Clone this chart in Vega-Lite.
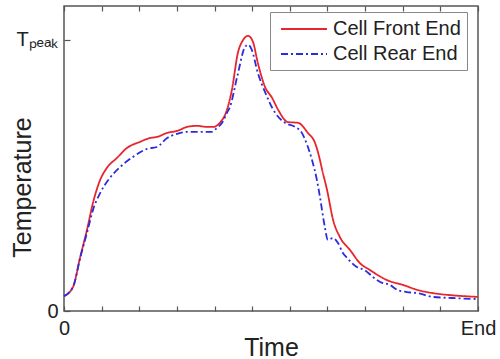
{
  "$schema": "https://vega.github.io/schema/vega-lite/v6.json",
  "width": 414,
  "height": 305,
  "autosize": {"type": "none"},
  "padding": {"left": 64, "top": 6, "right": 22, "bottom": 48},
  "background": "white",
  "config": {
    "font": "Liberation Sans",
    "view": {"stroke": "#555", "strokeWidth": 1.5},
    "axis": {"grid": false, "domain": false, "tickColor": "#555", "tickWidth": 1.2, "labelColor": "#222", "titleColor": "#222", "labelFont": "Liberation Sans", "titleFont": "Liberation Sans", "titleFontWeight": "normal"},
    "legend": {
      "orient": "none", "legendX": 206, "legendY": 6,
      "strokeColor": "#888", "fillColor": "white", "padding": 6,
      "labelFontSize": 20, "labelColor": "#222", "labelFont": "Liberation Sans",
      "symbolType": "M-0.6,0H4.0", "symbolSize": 400, "symbolStrokeWidth": 2,
      "rowPadding": 4, "labelOffset": 35, "title": null
    }
  },
  "data": {"values": [
    {"t": 0, "v": 0.055, "s": "Cell Front End"},
    {"t": 0.24, "v": 0.089, "s": "Cell Front End"},
    {"t": 0.43, "v": 0.199, "s": "Cell Front End"},
    {"t": 0.61, "v": 0.299, "s": "Cell Front End"},
    {"t": 0.77, "v": 0.399, "s": "Cell Front End"},
    {"t": 0.96, "v": 0.483, "s": "Cell Front End"},
    {"t": 1.14, "v": 0.528, "s": "Cell Front End"},
    {"t": 1.41, "v": 0.565, "s": "Cell Front End"},
    {"t": 1.67, "v": 0.601, "s": "Cell Front End"},
    {"t": 2.02, "v": 0.624, "s": "Cell Front End"},
    {"t": 2.28, "v": 0.638, "s": "Cell Front End"},
    {"t": 2.47, "v": 0.642, "s": "Cell Front End"},
    {"t": 2.74, "v": 0.657, "s": "Cell Front End"},
    {"t": 3.0, "v": 0.664, "s": "Cell Front End"},
    {"t": 3.27, "v": 0.679, "s": "Cell Front End"},
    {"t": 3.53, "v": 0.683, "s": "Cell Front End"},
    {"t": 3.8, "v": 0.679, "s": "Cell Front End"},
    {"t": 3.96, "v": 0.679, "s": "Cell Front End"},
    {"t": 4.14, "v": 0.694, "s": "Cell Front End"},
    {"t": 4.33, "v": 0.742, "s": "Cell Front End"},
    {"t": 4.46, "v": 0.815, "s": "Cell Front End"},
    {"t": 4.62, "v": 0.952, "s": "Cell Front End"},
    {"t": 4.76, "v": 1.0, "s": "Cell Front End"},
    {"t": 4.89, "v": 1.015, "s": "Cell Front End"},
    {"t": 5.02, "v": 0.993, "s": "Cell Front End"},
    {"t": 5.15, "v": 0.915, "s": "Cell Front End"},
    {"t": 5.34, "v": 0.827, "s": "Cell Front End"},
    {"t": 5.53, "v": 0.786, "s": "Cell Front End"},
    {"t": 5.69, "v": 0.742, "s": "Cell Front End"},
    {"t": 5.95, "v": 0.697, "s": "Cell Front End"},
    {"t": 6.22, "v": 0.694, "s": "Cell Front End"},
    {"t": 6.48, "v": 0.657, "s": "Cell Front End"},
    {"t": 6.67, "v": 0.62, "s": "Cell Front End"},
    {"t": 6.8, "v": 0.557, "s": "Cell Front End"},
    {"t": 6.86, "v": 0.52, "s": "Cell Front End"},
    {"t": 6.99, "v": 0.446, "s": "Cell Front End"},
    {"t": 7.15, "v": 0.336, "s": "Cell Front End"},
    {"t": 7.33, "v": 0.273, "s": "Cell Front End"},
    {"t": 7.6, "v": 0.225, "s": "Cell Front End"},
    {"t": 7.86, "v": 0.177, "s": "Cell Front End"},
    {"t": 8.13, "v": 0.151, "s": "Cell Front End"},
    {"t": 8.58, "v": 0.114, "s": "Cell Front End"},
    {"t": 9.01, "v": 0.096, "s": "Cell Front End"},
    {"t": 9.41, "v": 0.077, "s": "Cell Front End"},
    {"t": 9.8, "v": 0.066, "s": "Cell Front End"},
    {"t": 10.4, "v": 0.057, "s": "Cell Front End"},
    {"t": 11.0, "v": 0.052, "s": "Cell Front End"},
    {"t": 0, "v": 0.055, "s": "Cell Rear End"},
    {"t": 0.24, "v": 0.089, "s": "Cell Rear End"},
    {"t": 0.43, "v": 0.196, "s": "Cell Rear End"},
    {"t": 0.61, "v": 0.288, "s": "Cell Rear End"},
    {"t": 0.77, "v": 0.373, "s": "Cell Rear End"},
    {"t": 0.96, "v": 0.435, "s": "Cell Rear End"},
    {"t": 1.22, "v": 0.491, "s": "Cell Rear End"},
    {"t": 1.49, "v": 0.531, "s": "Cell Rear End"},
    {"t": 1.83, "v": 0.568, "s": "Cell Rear End"},
    {"t": 2.21, "v": 0.598, "s": "Cell Rear End"},
    {"t": 2.47, "v": 0.605, "s": "Cell Rear End"},
    {"t": 2.74, "v": 0.638, "s": "Cell Rear End"},
    {"t": 3.0, "v": 0.653, "s": "Cell Rear End"},
    {"t": 3.27, "v": 0.661, "s": "Cell Rear End"},
    {"t": 3.69, "v": 0.661, "s": "Cell Rear End"},
    {"t": 3.93, "v": 0.661, "s": "Cell Rear End"},
    {"t": 4.06, "v": 0.675, "s": "Cell Rear End"},
    {"t": 4.2, "v": 0.694, "s": "Cell Rear End"},
    {"t": 4.33, "v": 0.731, "s": "Cell Rear End"},
    {"t": 4.41, "v": 0.753, "s": "Cell Rear End"},
    {"t": 4.6, "v": 0.863, "s": "Cell Rear End"},
    {"t": 4.81, "v": 0.974, "s": "Cell Rear End"},
    {"t": 4.89, "v": 0.982, "s": "Cell Rear End"},
    {"t": 4.99, "v": 0.963, "s": "Cell Rear End"},
    {"t": 5.15, "v": 0.878, "s": "Cell Rear End"},
    {"t": 5.34, "v": 0.808, "s": "Cell Rear End"},
    {"t": 5.61, "v": 0.731, "s": "Cell Rear End"},
    {"t": 5.87, "v": 0.694, "s": "Cell Rear End"},
    {"t": 6.14, "v": 0.679, "s": "Cell Rear End"},
    {"t": 6.32, "v": 0.657, "s": "Cell Rear End"},
    {"t": 6.46, "v": 0.613, "s": "Cell Rear End"},
    {"t": 6.59, "v": 0.557, "s": "Cell Rear End"},
    {"t": 6.72, "v": 0.483, "s": "Cell Rear End"},
    {"t": 6.8, "v": 0.421, "s": "Cell Rear End"},
    {"t": 6.93, "v": 0.31, "s": "Cell Rear End"},
    {"t": 7.01, "v": 0.262, "s": "Cell Rear End"},
    {"t": 7.15, "v": 0.269, "s": "Cell Rear End"},
    {"t": 7.28, "v": 0.251, "s": "Cell Rear End"},
    {"t": 7.41, "v": 0.214, "s": "Cell Rear End"},
    {"t": 7.52, "v": 0.196, "s": "Cell Rear End"},
    {"t": 7.78, "v": 0.162, "s": "Cell Rear End"},
    {"t": 7.99, "v": 0.151, "s": "Cell Rear End"},
    {"t": 8.21, "v": 0.125, "s": "Cell Rear End"},
    {"t": 8.4, "v": 0.107, "s": "Cell Rear End"},
    {"t": 8.66, "v": 0.096, "s": "Cell Rear End"},
    {"t": 8.87, "v": 0.077, "s": "Cell Rear End"},
    {"t": 9.11, "v": 0.07, "s": "Cell Rear End"},
    {"t": 9.38, "v": 0.066, "s": "Cell Rear End"},
    {"t": 9.8, "v": 0.052, "s": "Cell Rear End"},
    {"t": 10.3, "v": 0.048, "s": "Cell Rear End"},
    {"t": 11.0, "v": 0.044, "s": "Cell Rear End"}
  ]},
  "resolve": {"axis": {"x": "independent"}},
  "layer": [
    {
      "mark": {"type": "line", "strokeWidth": 1.8, "interpolate": "monotone"},
      "encoding": {
        "x": {"field": "t", "type": "quantitative", "scale": {"domain": [0, 11], "nice": false, "zero": false},
          "axis": {"orient": "bottom", "values": [0,1,2,3,4,5,6,7,8,9,10,11], "tickSize": -5, "labelFlush": false, "labelFontSize": 20, "labelPadding": 12,
            "labelExpr": "datum.value == 0 ? '0' : (datum.value == 11 ? 'End' : '')",
            "title": "Time", "titleFontSize": 25, "titleY": 44, "titleBaseline": "alphabetic"}},
        "y": {"field": "v", "type": "quantitative", "scale": {"domain": [0, 1.125], "nice": false, "zero": false},
          "axis": {"values": [0, 1], "tickSize": -6, "labelFontSize": 20, "labelPadding": 12,
            "labelExpr": "datum.value == 0 ? '0' : 'Tₚₑₐₖ'",
            "title": "Temperature", "titleFontSize": 25, "titleX": -42, "titleY": 181, "titleBaseline": "middle"}},
        "color": {"field": "s", "type": "nominal", "scale": {"domain": ["Cell Front End", "Cell Rear End"], "range": ["#e8242c", "#2b2be0"]}},
        "strokeDash": {"field": "s", "type": "nominal", "scale": {"domain": ["Cell Front End", "Cell Rear End"], "range": [[1, 0], [7, 3, 2, 3]]}}
      }
    },
    {
      "mark": {"type": "rule", "opacity": 0},
      "encoding": {
        "x": {"field": "t", "type": "quantitative",
          "axis": {"orient": "top", "values": [0,1,2,3,4,5,6,7,8,9,10,11], "tickSize": -5, "labels": false, "title": null}}
      }
    }
  ]
}
